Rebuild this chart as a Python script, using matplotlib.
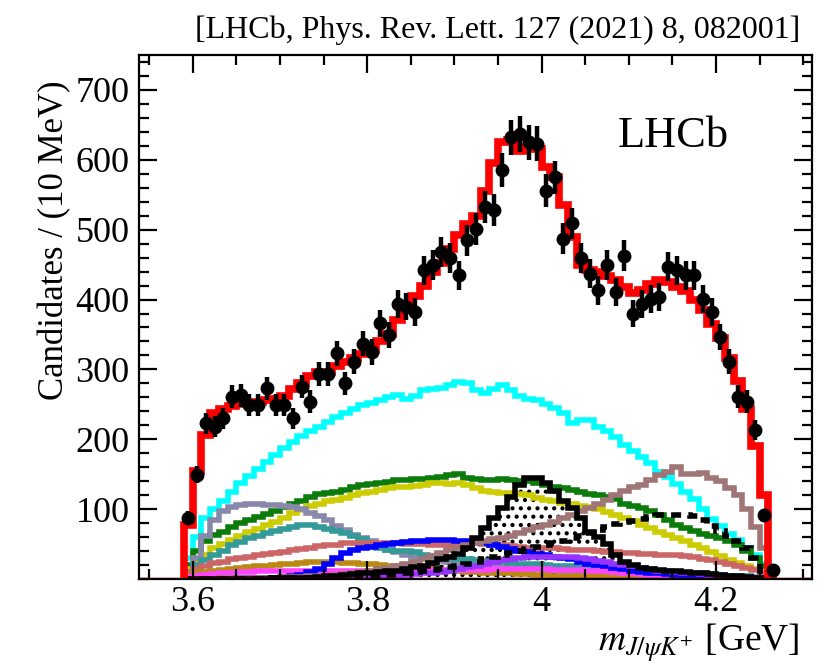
import numpy as np
import matplotlib
matplotlib.use("Agg")
import matplotlib.pyplot as plt
from matplotlib.ticker import MultipleLocator

# binning: 10 MeV bins starting at the J/psi K+ threshold
bin_lo = 3.59
bin_width = 0.01
n_bins = 68

# data (candidates per bin)
data = [88, 149, 223, 218, 230, 261, 263, 249, 249, 273,
        249, 249, 230, 275, 254, 294, 294, 323, 280, 311,
        337, 325, 366, 349, 394, 390, 382, 442, 449, 468,
        459, 435, 485, 501, 532, 528, 585, 632, 637, 625,
        623, 556, 575, 487, 509, 459, 437, 413, 449, 411,
        463, 380, 394, 401, 404, 447, 442, 435, 435, 401,
        382, 347, 311, 261, 254, 213, 91, 13]

# total fit
fit_total = [77, 154, 206, 238, 243, 248, 250, 252, 254, 256,
             258, 262, 272, 280, 290, 296, 297, 305, 310, 316,
             322, 328, 340, 350, 370, 388, 405, 420, 440, 452,
             472, 492, 508, 520, 555, 595, 625, 628, 612, 618,
             615, 590, 575, 535, 490, 450, 442, 440, 434, 428,
             418, 410, 414, 422, 428, 425, 418, 412, 400, 385,
             365, 345, 316, 283, 244, 190, 120, 0]

# fit components
comp_cyan = [30, 60, 87, 100, 112, 125, 138, 148, 157, 168,
             178, 188, 196, 204, 212, 218, 225, 232, 238, 244,
             249, 252, 256, 260, 264, 258, 262, 270, 272, 274,
             278, 282, 280, 270, 266, 272, 277, 270, 262, 258,
             256, 250, 245, 238, 224, 228, 228, 218, 212, 203,
             192, 183, 174, 166, 153, 146, 136, 124, 114, 100,
             86, 76, 64, 56, 45, 34, 22, 0]

comp_green = [20, 40, 55, 63, 68, 74, 80, 85, 89, 93,
              98, 103, 108, 112, 117, 121, 123, 125, 128, 132,
              134, 136, 138, 139, 141, 142, 143, 143, 144, 146,
              149, 150, 145, 143, 142, 142, 143, 141, 140, 140,
              137, 134, 132, 130, 127, 125, 122, 120, 118, 115,
              108, 104, 101, 97, 92, 85, 78, 73, 69, 65,
              62, 58, 54, 48, 40, 30, 18, 0]

comp_yellow = [15, 25, 34, 44, 50, 56, 62, 67, 72, 77,
               82, 88, 94, 99, 104, 108, 111, 113, 116, 120,
               123, 125, 128, 130, 131, 132, 133, 135, 137, 137,
               136, 137, 135, 130, 126, 124, 123, 123, 122, 120,
               116, 113, 111, 109, 107, 105, 103, 100, 96, 92,
               88, 83, 78, 73, 68, 63, 58, 54, 49, 44,
               38, 33, 27, 23, 19, 15, 10, 0]

comp_grey = [10, 30, 62, 84, 97, 103, 106, 107, 107, 106,
             106, 105, 103, 100, 95, 90, 84, 76, 70, 63,
             58, 54, 48, 42, 38, 35, 32, 30, 28, 26,
             24, 22, 21, 20, 19, 18, 17, 16, 15, 15,
             14, 13, 13, 12, 12, 11, 11, 10, 10, 9,
             9, 9, 8, 8, 7, 7, 6, 6, 5, 5,
             4, 4, 3, 3, 2, 2, 1, 0]

comp_teal = [10, 20, 27, 34, 40, 48, 53, 58, 62, 66,
             69, 72, 75, 77, 77, 75, 72, 69, 66, 62,
             57, 51, 45, 42, 40, 40, 38, 35, 33, 31,
             30, 29, 28, 27, 26, 25, 24, 23, 22, 22,
             21, 20, 19, 19, 18, 17, 17, 16, 15, 15,
             14, 13, 12, 12, 11, 10, 10, 9, 8, 8,
             7, 6, 5, 4, 4, 3, 2, 0]

comp_salmon = [8, 15, 19, 23, 25, 28, 30, 32, 34, 36,
               37, 39, 41, 43, 45, 47, 48, 49, 51, 52,
               52, 52, 52, 51, 51, 50, 50, 50, 49, 49,
               49, 50, 50, 51, 50, 49, 48, 47, 46, 45,
               45, 44, 44, 43, 42, 42, 41, 40, 39, 38,
               37, 37, 36, 36, 35, 35, 34, 33, 31, 29,
               27, 24, 21, 19, 16, 13, 8, 0]

comp_ochre = [5, 8, 10, 12, 13, 15, 16, 17, 18, 19,
              20, 21, 22, 23, 24, 24, 24, 24, 23, 23,
              22, 21, 20, 19, 18, 17, 16, 15, 14, 13,
              12, 11, 10, 10, 9, 9, 8, 8, 7, 7,
              6, 6, 5, 5, 5, 4, 4, 4, 3, 3,
              3, 3, 2, 2, 2, 2, 2, 1, 1, 1,
              1, 1, 1, 0, 0, 0, 0, 0]

comp_magenta = [3, 5, 6, 7, 8, 9, 10, 10, 11, 11,
                11, 12, 12, 12, 12, 12, 12, 12, 12, 12,
                12, 12, 12, 12, 12, 12, 12, 13, 13, 13,
                13, 13, 13, 13, 13, 14, 14, 14, 14, 14,
                14, 14, 13, 13, 13, 13, 12, 12, 11, 10,
                9, 8, 7, 6, 5, 5, 4, 4, 3, 3,
                2, 2, 2, 1, 1, 1, 0, 0]

comp_blue = [0, 0, 0, 0, 0, 0, 1, 1, 1, 2,
             2, 3, 4, 6, 10, 15, 22, 30, 37, 41,
             44, 46, 48, 50, 52, 53, 54, 55, 56, 56,
             56, 55, 54, 53, 51, 49, 46, 43, 40, 38,
             36, 34, 32, 30, 28, 25, 22, 20, 18, 16,
             14, 12, 10, 9, 8, 7, 6, 5, 4, 4,
             3, 3, 2, 2, 1, 1, 0, 0]

comp_purple = [0, 0, 0, 0, 0, 0, 0, 0, 0, 0,
               0, 0, 1, 1, 1, 2, 2, 2, 3, 3,
               3, 4, 4, 5, 5, 6, 7, 8, 9, 10,
               12, 14, 17, 19, 22, 24, 27, 29, 30, 31,
               32, 32, 32, 32, 31, 30, 28, 26, 24, 22,
               20, 18, 16, 14, 12, 11, 10, 9, 8, 7,
               6, 5, 4, 3, 3, 2, 1, 0]

comp_rosy = [0, 0, 0, 0, 1, 1, 1, 1, 2, 2,
             2, 3, 3, 3, 4, 4, 5, 6, 7, 8,
             10, 12, 14, 16, 19, 22, 25, 29, 33, 37,
             42, 45, 48, 51, 54, 57, 59, 62, 66, 70,
             74, 78, 82, 87, 92, 97, 102, 107, 113, 120,
             126, 131, 135, 142, 149, 153, 160, 150, 150, 152,
             145, 140, 130, 120, 100, 75, 45, 0]

# Zcs(4000)-like hatched component
comp_hatched = [0, 0, 0, 0, 0, 0, 0, 0, 0, 0,
                1, 1, 1, 2, 2, 3, 4, 5, 6, 7,
                8, 9, 10, 11, 12, 14, 17, 19, 23, 28,
                32, 36, 45, 59, 73, 87, 101, 118, 134, 144,
                144, 137, 126, 111, 101, 87, 68, 60, 50, 35,
                25, 20, 16, 14, 13, 12, 11, 10, 9, 8,
                7, 6, 5, 4, 3, 2, 1, 0]

# dashed black component
comp_dashed = [0, 0, 0, 0, 0, 0, 0, 0, 0, 0,
               1, 1, 1, 1, 2, 2, 2, 3, 3, 3,
               4, 4, 5, 6, 7, 8, 10, 11, 13, 15,
               17, 19, 22, 25, 28, 31, 34, 37, 40, 43,
               46, 49, 52, 55, 58, 62, 66, 70, 75, 79,
               81, 83, 86, 89, 91, 92, 92, 92, 90, 84,
               76, 69, 62, 55, 45, 30, 12, 0]

xtick_vals = [3.6, 3.8, 4.0, 4.2]
xtick_labels = ["3.6", "3.8", "4", "4.2"]
ytick_vals = [100, 200, 300, 400, 500, 600, 700]

edges = bin_lo + bin_width * np.arange(n_bins + 1)
centers = 0.5 * (edges[1:] + edges[:-1])

plt.rcParams['font.family'] = ['Liberation Serif', 'DejaVu Serif']
plt.rcParams['mathtext.fontset'] = 'stix'
plt.rcParams['hatch.linewidth'] = 1.8

fig = plt.figure(figsize=(8.28, 6.65), dpi=100)
ax = fig.add_axes([0.168, 0.1293, 0.8127, 0.788])

# hatched area first, lines drawn over it
ax.stairs(comp_hatched, edges, fill=True, facecolor='none', edgecolor='black',
          hatch='..', linewidth=0, baseline=0)

comps = [
    (comp_cyan, '#00ffff'),
    (comp_green, '#0b7b0b'),
    (comp_yellow, '#cccc00'),
    (comp_grey, '#8888aa'),
    (comp_teal, '#339999'),
    (comp_salmon, '#cc6666'),
    (comp_ochre, '#bb8811'),
    (comp_magenta, '#ff44ff'),
    (comp_blue, '#0000ff'),
    (comp_purple, '#9933ff'),
    (comp_rosy, '#a07575'),
]
for vals, col in comps:
    ax.stairs(vals, edges, color=col, linewidth=4, baseline=0)

ax.stairs(comp_hatched, edges, color='black', linewidth=4, baseline=0)
ax.stairs(comp_dashed, edges, color='black', linewidth=4, baseline=0,
          linestyle=(0, (1.8, 1.3)))

ax.axhline(0, color='#cc0000', linewidth=2.5)
ax.stairs(fit_total, edges, color='#ff0000', linewidth=5.5, baseline=0)

ax.errorbar(centers, data, yerr=np.sqrt(data), fmt='o', color='black',
            markersize=9, elinewidth=3.2, capsize=0, zorder=5)

ax.set_xlim(3.5385, 4.31)
ax.set_ylim(0, 750)

ax.set_xticks(xtick_vals)
ax.set_xticklabels(xtick_labels)
ax.set_yticks(ytick_vals)
ax.xaxis.set_minor_locator(MultipleLocator(0.05))
ax.yaxis.set_minor_locator(MultipleLocator(20))
ax.tick_params(which='both', direction='in', top=True, right=True,
               labelsize=26, width=1.6)
ax.tick_params(which='major', length=13, pad=7)
ax.tick_params(axis='x', which='major', pad=5)
ax.tick_params(which='minor', length=7)
for sp in ax.spines.values():
    sp.set_linewidth(1.6)

fig.text(0.066, 0.639, 'Candidates / (10 MeV)', rotation=90,
         ha='center', va='center', fontsize=25)
fig.text(0.966, 0.034, r'$m_{J/\psi K^{+}}$ [GeV]', ha='right',
         va='center', fontsize=27)
fig.text(0.966, 0.955, '[LHCb, Phys. Rev. Lett. 127 (2021) 8, 082001]',
         ha='right', va='center', fontsize=23)
ax.text(0.712, 0.824, 'LHCb', transform=ax.transAxes, ha='left',
        va='baseline', fontsize=32)

fig.savefig('out.png', dpi=100)
